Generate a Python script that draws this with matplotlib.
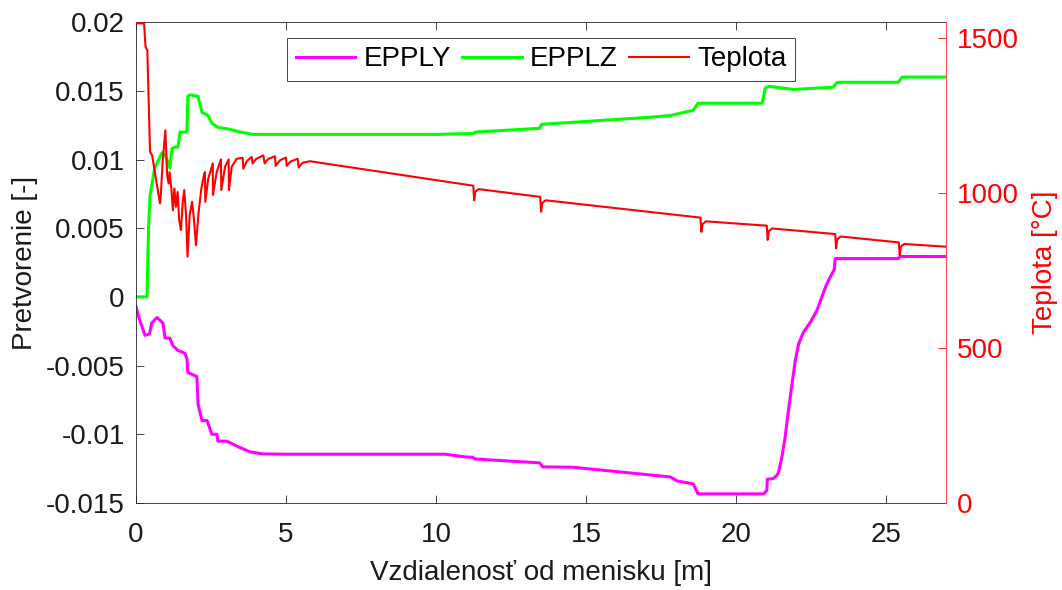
import numpy as np
import matplotlib.pyplot as plt
from matplotlib import rcParams

rcParams['font.family'] = ['Liberation Sans', 'DejaVu Sans']
rcParams['font.size'] = 20

# EPPLY - pretvorenie v smere Y
x_y = [0.0, 0.1, 0.3, 0.45, 0.53, 0.7, 0.9, 0.97, 1.13, 1.23, 1.4, 1.63, 1.7, 1.73, 2.03, 2.07,
       2.2, 2.37, 2.53, 2.7, 2.73, 3.03, 3.4, 3.8, 4.23, 5.0, 10.3, 10.97, 11.23, 11.3, 13.45,
       13.55, 14.57, 17.13, 17.8, 18.03, 18.57, 18.73, 20.91, 21.02, 21.04, 21.24, 21.35,
       21.41, 21.52, 21.63, 21.74, 21.86, 21.97, 22.08, 22.24, 22.47, 22.69, 22.86, 23.02,
       23.19, 23.27, 23.3, 25.4, 25.47, 27.0]
eps_y = [-0.0007, -0.0015, -0.0028, -0.0027, -0.0019, -0.0015, -0.0019, -0.003, -0.003,
         -0.00355, -0.0039, -0.0041, -0.0045, -0.0055, -0.0058, -0.0078, -0.009, -0.009,
         -0.01, -0.01, -0.0105, -0.0105, -0.0109, -0.01128, -0.01143, -0.01145, -0.01145,
         -0.01165, -0.01168, -0.0118, -0.01208, -0.01237, -0.0124, -0.01296, -0.0131, -0.0134,
         -0.01361, -0.01434, -0.01434, -0.0141, -0.01327, -0.01322, -0.013, -0.01279,
         -0.0117, -0.01024, -0.00829, -0.00635, -0.00465, -0.00343, -0.00258, -0.00185,
         -0.001, 0.00003, 0.00095, 0.00167, 0.002, 0.00279, 0.00279, 0.00294, 0.00294]

# EPPLZ - pretvorenie v smere Z
x_z = [0.0, 0.37, 0.42, 0.47, 0.63, 0.87, 1.0, 1.13, 1.2, 1.3, 1.4, 1.47, 1.7, 1.73, 1.8, 2.07,
       2.2, 2.4, 2.53, 2.73, 3.13, 3.47, 3.9, 6.47, 10.1, 11.25, 11.32, 13.45, 13.52, 17.1,
       17.8, 18.57, 18.73, 20.87, 20.97, 21.1, 21.9, 23.23, 23.37, 25.4, 25.53, 27.0]
eps_z = [0.0, 0.0, 0.005, 0.0074, 0.0094, 0.0105, 0.0102, 0.0094, 0.0108, 0.0109, 0.0109,
         0.012, 0.012, 0.0146, 0.0147, 0.0146, 0.01344, 0.0132, 0.01264, 0.01234, 0.0122,
         0.012, 0.01183, 0.01183, 0.01183, 0.0119, 0.012, 0.01227, 0.01256, 0.01307, 0.0132,
         0.01358, 0.0141, 0.0141, 0.0152, 0.01533, 0.0151, 0.01526, 0.01562, 0.01562, 0.016,
         0.016]

# Teplota [°C]
x_t = [0.0, 0.27, 0.32, 0.38, 0.47, 0.54, 0.63, 0.8, 0.83, 0.89, 0.98, 1.04, 1.09, 1.12, 1.18,
       1.23, 1.28, 1.33, 1.39, 1.44, 1.5, 1.56, 1.61, 1.67, 1.72, 1.79, 1.87, 1.93, 2.0, 2.09,
       2.18, 2.27, 2.3, 2.31, 2.41, 2.56, 2.567, 2.69, 2.833, 2.844, 2.97, 3.089, 3.1, 3.19,
       3.356, 3.556, 3.578, 3.7, 3.856, 3.889, 4.0, 4.244, 4.289, 4.4, 4.633, 4.656, 4.8, 5.0,
       5.022, 5.15, 5.389, 5.422, 5.55, 5.8,
       11.24, 11.27, 11.31, 11.42, 13.47, 13.5, 13.54, 13.65, 18.81, 18.84, 18.88, 18.99,
       21.02, 21.05, 21.09, 21.2, 23.3, 23.33, 23.37, 23.48, 25.42, 25.45, 25.49, 25.6, 27.0]
temp = [1548, 1548, 1472, 1461, 1133, 1122, 1068, 967, 994, 1101, 1203, 1058, 1031, 1068,
        1015, 945, 1015, 956, 1004, 913, 881, 972, 1010, 929, 795, 929, 972, 918, 832, 940,
        1015, 1060, 1068, 972, 1047, 1096, 994, 1068, 1109, 1010, 1085, 1109, 1010, 1085,
        1111, 1114, 1079, 1104, 1117, 1096, 1110, 1122, 1096, 1110, 1119, 1088, 1106, 1115,
        1088, 1102, 1111, 1083, 1098, 1103,
        1024, 977, 1005, 1013, 988, 940, 968, 977, 921, 875, 900, 909,
        895, 849, 877, 886, 868, 822, 851, 860, 841, 800, 828, 836, 827]

fig = plt.figure(figsize=(10.62, 5.90), dpi=100)
ax = fig.add_axes([0.128, 0.1475, 0.763, 0.815])
ax2 = ax.twinx()

l1, = ax.plot(x_y, eps_y, color='#ff00ff', lw=2.2, label='EPPLY')
l2, = ax.plot(x_z, eps_z, color='#00ff00', lw=2.2, label='EPPLZ')
l3, = ax2.plot(x_t, temp, color='#ff0000', lw=1.5, label='Teplota')

ax.set_xlim(0, 27)
ax.set_ylim(-0.015, 0.02)
ax.set_yticks([-0.015, -0.01, -0.005, 0, 0.005, 0.01, 0.015, 0.02])
ax.set_yticklabels(['-0.015', '-0.01', '-0.005', '0', '0.005', '0.01', '0.015', '0.02'])
ax.set_xticks([0, 5, 10, 15, 20, 25])
ax2.set_ylim(0, 1552)
ax2.set_yticks([0, 500, 1000, 1500])

ax.tick_params(direction='in', length=6, width=0.6, color='#262626', top=True, pad=8)
ax.tick_params(axis='x', pad=14)
ax2.tick_params(direction='in', length=6, width=0.6, colors='#ff0000', pad=8)
for side in ['left', 'bottom', 'top']:
    ax.spines[side].set_color('#262626')
    ax.spines[side].set_linewidth(0.6)
    ax2.spines[side].set_visible(False)
ax.spines['right'].set_visible(False)
ax2.spines['right'].set_color('#ff4d4d')
ax2.spines['right'].set_linewidth(0.8)

ax.set_xlabel('Vzdialenosť od menisku [m]', fontsize=20, color='#1a1a1a', labelpad=8)
ax.set_ylabel('Pretvorenie [-]', fontsize=20, color='#1a1a1a', labelpad=6)
ax2.set_ylabel('Teplota [°C]', fontsize=20, color='#ff0000', labelpad=9)
for lab in ax.get_xticklabels() + ax.get_yticklabels():
    lab.set_color('#1a1a1a')

leg = ax2.legend(handles=[l1, l2, l3], loc='upper center', bbox_to_anchor=(0.5, 0.967), ncol=3,
                 fancybox=False, framealpha=1, edgecolor='#262626', handlelength=2.15,
                 handletextpad=0.3, columnspacing=0.4, borderpad=0.3, borderaxespad=0,
                 fontsize=20)
leg.get_frame().set_linewidth(0.6)

fig.savefig('out.png', dpi=100)
